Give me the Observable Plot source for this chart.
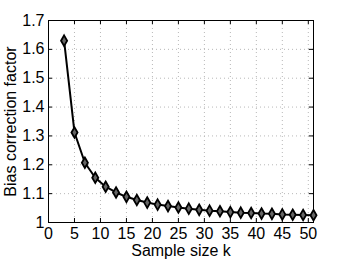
<!DOCTYPE html>
<html>
<head>
<meta charset="utf-8">
<script src="https://cdn.jsdelivr.net/npm/d3@7"></script>
<script src="https://cdn.jsdelivr.net/npm/@observablehq/plot@0.6"></script>
<style>
  html, body { margin: 0; padding: 0; background: #fff; }
</style>
</head>
<body>
<div id="chart"></div>
<script>
const sampleSizes = [3, 5, 7, 9, 11, 13, 15, 17, 19, 21, 23, 25, 27, 29, 31, 33, 35, 37, 39, 41, 43, 45, 47, 49, 51];
const biasFactors = [1.630, 1.312, 1.207, 1.155, 1.124, 1.104, 1.089, 1.078, 1.069, 1.062, 1.057, 1.052, 1.048, 1.044, 1.041, 1.039, 1.036, 1.034, 1.033, 1.031, 1.030, 1.028, 1.027, 1.026, 1.025];
const xTicks = [0, 5, 10, 15, 20, 25, 30, 35, 40, 45, 50];
const yTicks = [1, 1.1, 1.2, 1.3, 1.4, 1.5, 1.6, 1.7];
const yTickLabels = ["1", "1.1", "1.2", "1.3", "1.4", "1.5", "1.6", "1.7"];
const xLabel = "Sample size k";
const yLabel = "Bias correction factor";

const data = sampleSizes.map((k, i) => ({k, f: biasFactors[i]}));

const W = 346, H = 260;
const mL = 48, mR = 33, mT = 20, mB = 38;
const plotH = H - mT - mB, plotW = W - mL - mR;
const tickLen = 4;

const chart = Plot.plot({
  width: W,
  height: H,
  marginLeft: mL,
  marginRight: mR,
  marginTop: mT,
  marginBottom: mB,
  style: {fontFamily: "'Liberation Sans', Arial, sans-serif", fontSize: "16px", color: "black", background: "white"},
  x: {domain: [0, 51], ticks: xTicks, label: null},
  y: {domain: [1, 1.7], ticks: yTicks, label: null},
  marks: [
    Plot.ruleX(xTicks.slice(1), {x: d => d, stroke: "#b8b8b8", strokeWidth: 1, strokeDasharray: "1,3"}),
    Plot.ruleY(yTicks.slice(1), {y: d => d, stroke: "#b8b8b8", strokeWidth: 1, strokeDasharray: "1,3"}),
    Plot.tickX(xTicks, {x: d => d, stroke: "black", insetTop: plotH - tickLen}),
    Plot.tickX(xTicks, {x: d => d, stroke: "black", insetBottom: plotH - tickLen}),
    Plot.tickY(yTicks, {y: d => d, stroke: "black", insetRight: plotW - tickLen}),
    Plot.tickY(yTicks, {y: d => d, stroke: "black", insetLeft: plotW - tickLen}),
    Plot.frame({stroke: "black", strokeWidth: 1}),
    Plot.axisX(xTicks, {tickSize: 0, tickPadding: 5, fontSize: 16, label: null}),
    Plot.axisY(yTicks, {tickSize: 0, tickPadding: 4, fontSize: 16, label: null, tickFormat: (d, i) => yTickLabels[i]}),
    Plot.line(data, {x: "k", y: "f", stroke: "black", strokeWidth: 2}),
    Plot.dot(data, {x: "k", y: "f", symbol: "diamond", r: 3.2, fill: "#666", stroke: "black", strokeWidth: 1.8}),
    Plot.text([xLabel], {text: d => d, frameAnchor: "bottom", lineAnchor: "middle", textAnchor: "middle", dy: 28, fontSize: 16, fill: "black"}),
    Plot.text([yLabel], {text: d => d, frameAnchor: "left", lineAnchor: "middle", textAnchor: "middle", rotate: -90, dx: -38, fontSize: 16, fill: "black"})
  ]
});
document.getElementById("chart").appendChild(chart);
</script>
</body>
</html>
